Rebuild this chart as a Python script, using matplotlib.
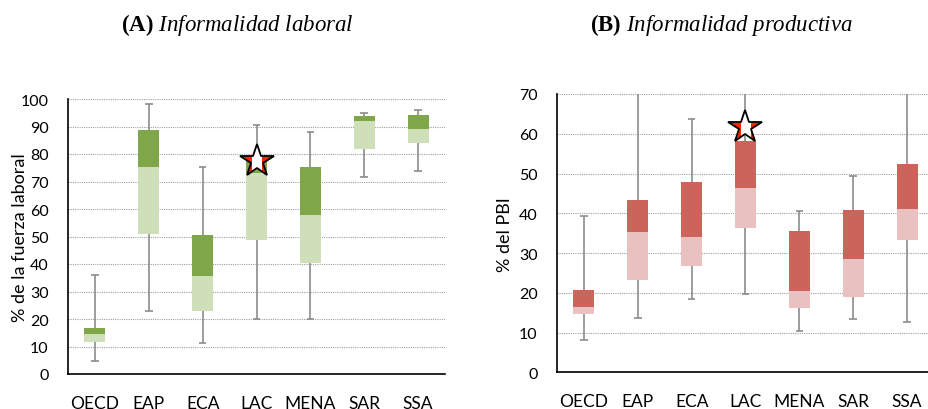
import matplotlib
matplotlib.use("Agg")
import matplotlib.pyplot as plt
from matplotlib.patches import Rectangle

plt.rcParams['font.family'] = ['Lato', 'DejaVu Sans']
plt.rcParams['mathtext.fontset'] = 'custom'
plt.rcParams['mathtext.rm'] = 'Liberation Serif'
plt.rcParams['mathtext.it'] = 'Liberation Serif:italic'
plt.rcParams['mathtext.bf'] = 'Liberation Serif:bold'

categories = ["OECD", "EAP", "ECA", "LAC", "MENA", "SAR", "SSA"]

# Panel A: labour informality (% of labour force)
lab_low = [4.8, 23.0, 11.3, 20.0, 20.1, 71.5, 73.9]
lab_q1 = [11.8, 50.9, 22.8, 48.8, 40.4, 81.8, 84.1]
lab_med = [14.5, 75.3, 35.6, 73.1, 57.8, 92.0, 89.0]
lab_q3 = [16.6, 88.6, 50.4, 77.5, 75.4, 93.9, 94.1]
lab_high = [36.1, 98.1, 75.4, 90.4, 87.9, 94.9, 96.1]
lab_star = 77.5

# Panel B: productive informality (% of GDP)
prod_low = [8.2, 13.7, 18.4, 19.7, 10.3, 13.4, 12.7]
prod_q1 = [14.75, 23.1, 26.8, 36.4, 16.1, 19.0, 33.4]
prod_med = [16.3, 35.3, 34.1, 46.4, 20.4, 28.5, 41.1]
prod_q3 = [20.6, 43.3, 47.8, 58.3, 35.5, 40.8, 52.5]
prod_high = [39.3, 75.0, 63.7, 75.0, 40.6, 49.3, 75.0]
prod_star = 61.7

W, H = 929, 410
fig = plt.figure(figsize=(W / 100, H / 100), dpi=100)


def panel(rect, low, q1, med, q3, high, star, ymax, step, light, dark, ylabel):
    ax = fig.add_axes(rect)
    x = list(range(len(categories)))
    bw = 0.39
    ax.set_xlim(-0.5, len(categories) - 0.5)
    ax.set_ylim(0, ymax)
    ax.set_yticks(range(0, ymax + 1, step))
    for y in range(step, ymax + 1, step):
        ax.axhline(y, color='#a0a0a0', lw=0.8, ls=(0, (1, 1)), zorder=0)
    ax.vlines(x, low, q1, color='#8c8c8c', lw=1.2, zorder=1)
    ax.vlines(x, q3, high, color='#8c8c8c', lw=1.2, zorder=1)
    for xi, lo, hi in zip(x, low, high):
        if lo < ymax:
            ax.hlines(lo, xi - 0.07, xi + 0.07, color='#8c8c8c', lw=1.2, zorder=1)
        if hi < ymax:
            ax.hlines(hi, xi - 0.07, xi + 0.07, color='#8c8c8c', lw=1.2, zorder=1)
    ax.bar(x, [m - a for m, a in zip(med, q1)], bottom=q1, width=bw,
           color=light, zorder=2)
    ax.bar(x, [b - m for b, m in zip(q3, med)], bottom=med, width=bw,
           color=dark, zorder=2)
    # star (red-white-red)
    ax.plot([3], [star], marker='*', ms=25, color='#ff2200', mec='none',
            zorder=5, clip_on=False)
    wl, = ax.plot([3], [star], marker='*', ms=25, color='white', mec='none',
                  zorder=6, clip_on=False)
    clip = Rectangle((3 - 0.075, star - 20), 0.15, 40, transform=ax.transData)
    wl.set_clip_path(clip)
    wl.set_clip_on(True)
    ax.plot([3], [star], marker='*', ms=25, mfc='none', mec='black', mew=1.3,
            zorder=7, clip_on=False)
    ax.set_xticks(x)
    ax.set_xticklabels(categories, fontsize=12.5)
    ax.tick_params(axis='x', length=0, pad=15)
    ax.tick_params(axis='y', length=0, pad=14, labelsize=11.5)
    for s in ['top', 'right']:
        ax.spines[s].set_visible(False)
    for s in ['left', 'bottom']:
        ax.spines[s].set_color('black')
        ax.spines[s].set_linewidth(1.2)
    ax.set_ylabel(ylabel, fontsize=13, labelpad=6)
    return ax


ax1 = panel([68 / W, 1 - 375 / H, 377 / W, 275 / H], lab_low, lab_q1, lab_med,
            lab_q3, lab_high, lab_star, 100, 10, '#cfdfb9', '#80a64a',
            '% de la fuerza laboral')
ax2 = panel([557 / W, 1 - 373.3 / H, 377 / W, 278.3 / H], prod_low, prod_q1,
            prod_med, prod_q3, prod_high, prod_star, 70, 10, '#e9c1c0', '#cc645c',
            '% del PBI')
ax1.yaxis.set_label_coords(-0.107, 0.5)
ax2.yaxis.set_label_coords(-0.117, 0.5)

fig.text(237 / W, 1 - 25 / H, r'$\mathbf{(A)}$ $\mathit{Informalidad\ laboral}$',
         ha='center', va='center', fontsize=16.5)
fig.text(721 / W, 1 - 25 / H, r'$\mathbf{(B)}$ $\mathit{Informalidad\ productiva}$',
         ha='center', va='center', fontsize=16.5)

fig.savefig('out.png', dpi=100)
